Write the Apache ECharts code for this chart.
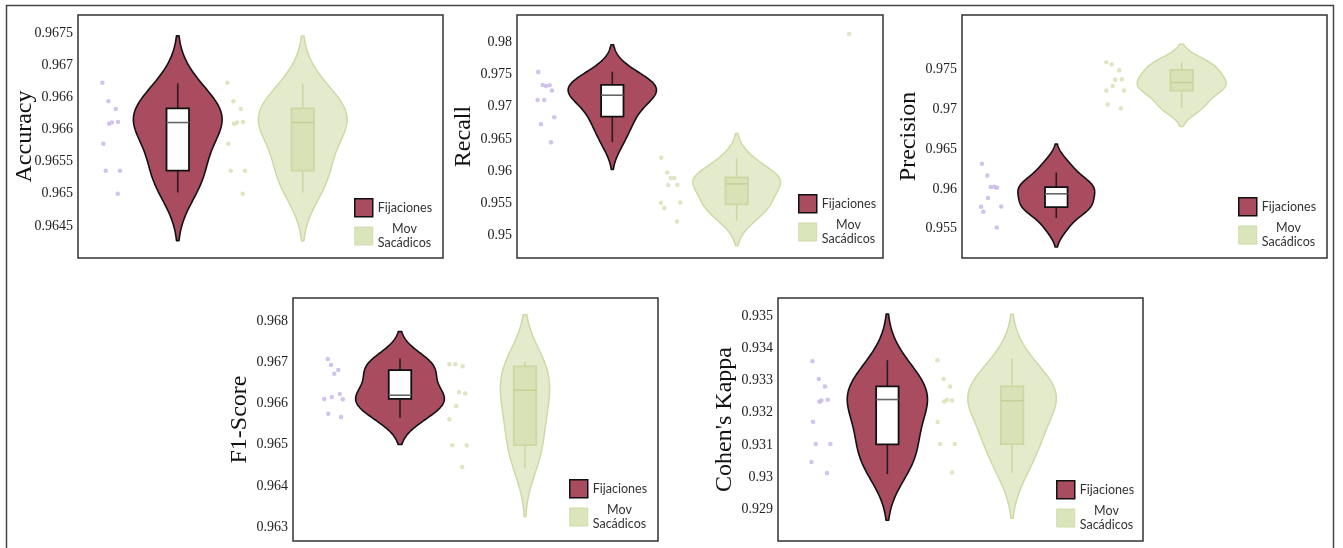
<!DOCTYPE html>
<html><head><meta charset="utf-8">
<script src="https://cdn.jsdelivr.net/npm/echarts@6/dist/echarts.min.js"></script>
<style>html,body{margin:0;padding:0;background:#fff;}#c{width:1343px;height:548px;}</style>
</head><body><div id="c"></div>
<script>
// ---------------- DATA ----------------
const groupNames = ['Fijaciones', 'Mov Sacádicos'];

// Accuracy
const accTickValues = [0.9645, 0.965, 0.9655, 0.966, 0.9665, 0.967, 0.9675];
const accTickLabels = ['0.9645', '0.965', '0.9655', '0.966', '0.966', '0.967', '0.9675'];
const accFij = [0.96673, 0.96644, 0.96632, 0.96609, 0.96611, 0.96612, 0.96578, 0.96536, 0.96536, 0.96500];
const accMov = [0.96673, 0.96644, 0.96632, 0.96609, 0.96611, 0.96612, 0.96578, 0.96536, 0.96536, 0.96500];
const accFijJitter = [-0.603, -0.555, -0.496, -0.550, -0.526, -0.478, -0.595, -0.576, -0.462, -0.480];
const accMovJitter = [-0.603, -0.555, -0.496, -0.550, -0.526, -0.478, -0.595, -0.576, -0.462, -0.480];
const accFijBox = [0.96502, 0.96536, 0.96611, 0.96633, 0.96672];
const accMovBox = [0.96502, 0.96536, 0.96611, 0.96633, 0.96672];

// Recall
const recTickValues = [0.95, 0.955, 0.96, 0.965, 0.97, 0.975, 0.98];
const recTickLabels = ['0.95', '0.955', '0.96', '0.965', '0.97', '0.975', '0.98'];
const recFij = [0.97543, 0.97341, 0.97326, 0.97336, 0.97253, 0.97108, 0.97108, 0.96839, 0.96730, 0.96450];
const recMov = [0.96206, 0.95978, 0.95891, 0.95891, 0.95782, 0.95782, 0.95507, 0.95424, 0.95511, 0.95216];
const recFijJitter = [-0.595, -0.559, -0.533, -0.503, -0.485, -0.600, -0.547, -0.466, -0.573, -0.493];
const recMovJitter = [-0.606, -0.558, -0.531, -0.502, -0.550, -0.477, -0.609, -0.582, -0.453, -0.480];
const recFijBox = [0.96450, 0.96848, 0.97181, 0.97341, 0.97548];
const recMovBox = [0.95227, 0.95480, 0.95802, 0.95900, 0.96202];
const recMovStray = [0.98134];
const recMovStrayJitter = [0.903];

// Precision
const preTickValues = [0.955, 0.96, 0.965, 0.97, 0.975];
const preTickLabels = ['0.955', '0.96', '0.965', '0.97', '0.975'];
const preFij = [0.96317, 0.96169, 0.96024, 0.96027, 0.96015, 0.95885, 0.95776, 0.95780, 0.95713, 0.95516];
const preMov = [0.97595, 0.97570, 0.97494, 0.97376, 0.97381, 0.97297, 0.97238, 0.97238, 0.97062, 0.97012];
const preFijJitter = [-0.593, -0.550, -0.523, -0.494, -0.473, -0.545, -0.600, -0.439, -0.582, -0.475];
const preMovJitter = [-0.601, -0.558, -0.498, -0.530, -0.478, -0.550, -0.601, -0.460, -0.590, -0.484];
const preFijBox = [0.95634, 0.95772, 0.95939, 0.96024, 0.96207];
const preMovBox = [0.97017, 0.97238, 0.97338, 0.97498, 0.97595];

// F1-Score
const f1TickValues = [0.963, 0.964, 0.965, 0.966, 0.967, 0.968];
const f1TickLabels = ['0.963', '0.964', '0.965', '0.966', '0.967', '0.968'];
const f1Fij = [0.96708, 0.96693, 0.96681, 0.96672, 0.96611, 0.96616, 0.96623, 0.96610, 0.96575, 0.96567];
const f1Mov = [0.96695, 0.96695, 0.96690, 0.96627, 0.96624, 0.96594, 0.96562, 0.96499, 0.96498, 0.96446];
const f1FijJitter = [-0.578, -0.552, -0.494, -0.526, -0.606, -0.546, -0.482, -0.458, -0.574, -0.472];
const f1MovJitter = [-0.606, -0.558, -0.498, -0.528, -0.478, -0.550, -0.606, -0.582, -0.466, -0.502];
const f1FijBox = [0.96565, 0.96611, 0.96620, 0.96681, 0.96709];
const f1MovBox = [0.96443, 0.96499, 0.96632, 0.96690, 0.96701];

// Cohen's Kappa
const kapTickValues = [0.929, 0.93, 0.931, 0.932, 0.933, 0.934, 0.935];
const kapTickLabels = ['0.929', '0.93', '0.931', '0.932', '0.933', '0.934', '0.935'];
const kapFij = [0.93360, 0.93305, 0.93281, 0.93234, 0.93238, 0.93240, 0.93172, 0.93103, 0.93103, 0.93047, 0.93013];
const kapMov = [0.93363, 0.93305, 0.93281, 0.93235, 0.93240, 0.93238, 0.93171, 0.93103, 0.93103, 0.93015];
const kapFijJitter = [-0.601, -0.550, -0.500, -0.545, -0.529, -0.478, -0.596, -0.574, -0.457, -0.609, -0.484];
const kapMovJitter = [-0.599, -0.549, -0.497, -0.543, -0.521, -0.481, -0.597, -0.577, -0.460, -0.481];
const kapFijBox = [0.93010, 0.93102, 0.93241, 0.93282, 0.93363];
const kapMovBox = [0.93014, 0.93103, 0.93237, 0.93282, 0.93368];

// ---------------- LAYOUT ----------------
const panels = [
  { title: 'Accuracy', ticks: accTickValues, labels: accTickLabels, vals: [accFij, accMov], jit: [accFijJitter, accMovJitter], box: [accFijBox, accMovBox],
    grid: { left: 78, top: 15, width: 365, height: 243 }, x: [-0.798, 2.122], y: [0.964000, 0.967785], leg: [354, 198] },
  { title: 'Recall', ticks: recTickValues, labels: recTickLabels, vals: [recFij, recMov], jit: [recFijJitter, recMovJitter], box: [recFijBox, recMovBox],
    grid: { left: 517, top: 15, width: 366, height: 243 }, x: [-0.766, 2.176], y: [0.946468, 0.984294], leg: [798, 194],
    extra: { vals: recMovStray, jit: recMovStrayJitter, g: 1 } },
  { title: 'Precision', ticks: preTickValues, labels: preTickLabels, vals: [preFij, preMov], jit: [preFijJitter, preMovJitter], box: [preFijBox, preMovBox],
    grid: { left: 962, top: 15, width: 365, height: 243 }, x: [-0.752, 2.159], y: [0.951311, 0.981894], leg: [1238, 197] },
  { title: 'F1-Score', ticks: f1TickValues, labels: f1TickLabels, vals: [f1Fij, f1Mov], jit: [f1FijJitter, f1MovJitter], box: [f1FijBox, f1MovBox],
    grid: { left: 293, top: 298, width: 365, height: 243 }, x: [-0.856, 2.064], y: [0.962668, 0.968556], leg: [569, 479] },
  { title: "Cohen's Kappa", ticks: kapTickValues, labels: kapTickLabels, vals: [kapFij, kapMov], jit: [kapFijJitter, kapMovJitter], box: [kapFijBox, kapMovBox],
    grid: { left: 778, top: 298, width: 365, height: 243 }, x: [-0.877, 2.05], y: [0.928025, 0.935557], leg: [1056, 480] }
];

const VIOLIN_HALF = 0.355;
const BOX_HALF = 0.09;
const styles = [
  { fill: '#a94c60', stroke: '#111111', lw: 1.6, boxFill: '#ffffff', boxStroke: '#111111', boxLw: 1.8, whisker: '#2a1c20', median: '#666666', dot: '#c6b4e8' },
  { fill: '#e3ebcc', stroke: '#cddaa6', lw: 1.5, boxFill: '#d8e2b6', boxStroke: '#cbd8a2', boxLw: 1.8, whisker: '#cbd8a2', median: '#c4d298', dot: '#d6e0b2' }
];

function qLin(s, p) { const h = (s.length - 1) * p, lo = Math.floor(h), hi = Math.min(lo + 1, s.length - 1); return s[lo] + (h - lo) * (s[hi] - s[lo]); }
function kde(vals) {
  const s = vals.slice().sort((a, b) => a - b), n = s.length;
  const mean = s.reduce((a, b) => a + b, 0) / n;
  const sd = Math.sqrt(s.reduce((a, b) => a + (b - mean) * (b - mean), 0) / (n - 1));
  const iqr = qLin(s, 0.75) - qLin(s, 0.25);
  const bw = 1.059 * Math.min(sd, iqr / 1.349) * Math.pow(n, -0.2);
  const lo = s[0] - 2 * bw, hi = s[n - 1] + 2 * bw, N = 160;
  const ys = [], ds = [];
  for (let i = 0; i <= N; i++) {
    const y = lo + (hi - lo) * i / N; let d = 0;
    for (const v of s) { const u = (y - v) / bw; d += Math.exp(-0.5 * u * u); }
    ys.push(y); ds.push(d / (n * bw * Math.sqrt(2 * Math.PI)));
  }
  return { ys, ds, max: Math.max.apply(null, ds) };
}

const grid = [], xAxis = [], yAxis = [], series = [], legend = [];
panels.forEach((p, pi) => {
  grid.push(Object.assign({ show: true, borderColor: '#333', borderWidth: 1.5, backgroundColor: 'transparent' }, p.grid));
  xAxis.push({ type: 'value', gridIndex: pi, min: p.x[0], max: p.x[1], show: false });
  yAxis.push({
    type: 'value', gridIndex: pi, min: p.y[0], max: p.y[1],
    name: p.title, nameLocation: 'middle', nameGap: 41, nameMoveOverlap: false,
    nameTextStyle: { fontFamily: 'Liberation Serif', fontSize: 24, color: '#111' },
    axisLine: { show: false }, axisTick: { show: false }, splitLine: { show: false },
    axisLabel: {
      customValues: p.ticks, margin: 5, fontFamily: 'Liberation Serif', fontSize: 14, color: '#222',
      formatter: v => { const i = p.ticks.findIndex(t => Math.abs(t - v) < 1e-9); return i >= 0 ? p.labels[i] : ''; }
    }
  });
  const k = p.vals.map(kde);
  const kmax = Math.max(k[0].max, k[1].max);
  [0, 1].forEach(gi => {
    const st = styles[gi], kd = k[gi];
    series.push({
      type: 'custom', name: groupNames[gi], xAxisIndex: pi, yAxisIndex: pi, silent: true, z: 2,
      itemStyle: { color: st.fill },
      data: [[gi, p.box[gi][2]]],
      renderItem: (params, api) => {
        const pts = [];
        for (let i = 0; i < kd.ys.length; i++) pts.push(api.coord([gi - kd.ds[i] / kmax * VIOLIN_HALF, kd.ys[i]]));
        for (let i = kd.ys.length - 1; i >= 0; i--) pts.push(api.coord([gi + kd.ds[i] / kmax * VIOLIN_HALF, kd.ys[i]]));
        return { type: 'polygon', shape: { points: pts }, style: { fill: st.fill, stroke: st.stroke, lineWidth: st.lw, lineJoin: 'round' } };
      }
    });
    const b = p.box[gi];
    series.push({
      type: 'custom', name: groupNames[gi] + ' box', xAxisIndex: pi, yAxisIndex: pi, silent: true, z: 3,
      data: [[gi, b[2]]],
      renderItem: (params, api) => {
        const c = (x, y) => api.coord([x, y]);
        const lo = c(gi, b[0]), q1 = c(gi, b[1]), md = c(gi, b[2]), q3 = c(gi, b[3]), hi = c(gi, b[4]);
        const l = c(gi - BOX_HALF, b[2])[0], r = c(gi + BOX_HALF, b[2])[0];
        return { type: 'group', children: [
          { type: 'line', shape: { x1: lo[0], y1: lo[1], x2: q1[0], y2: q1[1] }, style: { stroke: st.whisker, lineWidth: 1.6 } },
          { type: 'line', shape: { x1: q3[0], y1: q3[1], x2: hi[0], y2: hi[1] }, style: { stroke: st.whisker, lineWidth: 1.6 } },
          { type: 'rect', shape: { x: l, y: q3[1], width: r - l, height: q1[1] - q3[1] }, style: { fill: st.boxFill, stroke: st.boxStroke, lineWidth: st.boxLw } },
          { type: 'line', shape: { x1: l, y1: md[1], x2: r, y2: md[1] }, style: { stroke: st.median, lineWidth: 1.6 } }
        ] };
      }
    });
    series.push({
      type: 'scatter', name: groupNames[gi] + ' puntos', xAxisIndex: pi, yAxisIndex: pi, silent: true, z: 4,
      symbolSize: 4.5, itemStyle: { color: st.dot },
      data: p.vals[gi].map((v, i) => [gi + p.jit[gi][i], v])
    });
  });
  if (p.extra) {
    series.push({
      type: 'scatter', name: 'extra', xAxisIndex: pi, yAxisIndex: pi, silent: true, z: 4,
      symbolSize: 4.5, itemStyle: { color: styles[p.extra.g].dot },
      data: p.extra.vals.map((v, i) => [p.extra.g + p.extra.jit[i], v])
    });
  }
  legend.push({
    orient: 'vertical', left: p.leg[0], top: p.leg[1], padding: 0, itemWidth: 18, itemHeight: 18, itemGap: 5,
    selectedMode: false, icon: 'rect',
    data: [
      { name: groupNames[0], itemStyle: { color: '#a94c60', borderColor: '#111', borderWidth: 1.5 } },
      { name: groupNames[1], itemStyle: { color: '#dbe5bb', borderColor: '#d0dcaa', borderWidth: 1 } }
    ],
    formatter: n => n === groupNames[0] ? n : '{c|Mov}\n{c|Sacádicos}',
    textStyle: { fontFamily: 'Lato', fontSize: 12.5, color: '#333',
      rich: { c: { align: 'center', fontFamily: 'Lato', fontSize: 12.5, lineHeight: 14, color: '#333' } } }
  });
});

const chart = echarts.init(document.getElementById('c'), null, { renderer: 'canvas' });
chart.setOption({
  animation: false,
  backgroundColor: '#ffffff',
  grid, xAxis, yAxis, series, legend,
  graphic: [{ type: 'rect', silent: true, shape: { x: 6.5, y: 5.5, width: 1327, height: 600 },
    style: { fill: 'none', stroke: '#444', lineWidth: 1.5 } }]
});
</script></body></html>
